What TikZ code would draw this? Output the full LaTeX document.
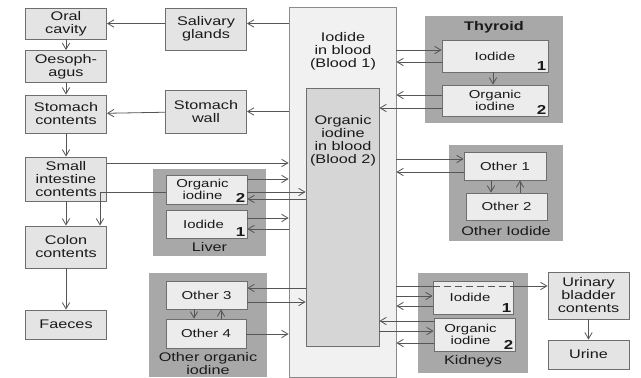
\documentclass[tikz,border=0pt]{standalone}
\usepackage{xcolor}
\usepackage{fontspec}
\setmainfont{Liberation Sans}[FakeStretch=1.3]
\usepackage{tikz}
\usetikzlibrary{arrows.meta,positioning}
\definecolor{ink}{HTML}{1A1A1A}
\definecolor{edge}{HTML}{6E6E6E}
\definecolor{wire}{HTML}{555555}
\definecolor{boxfill}{HTML}{E4E4E4}
\definecolor{cellfill}{HTML}{ECECEC}
\definecolor{organ}{HTML}{A8A8A8}
\definecolor{bloodA}{HTML}{F1F1F1}
\definecolor{bloodB}{HTML}{D6D6D6}

\begin{document}
\begin{tikzpicture}[
  x=1pt,y=-1pt,
  font=\fontsize{12.5}{13}\selectfont,
  box/.style={draw=edge,line width=0.9pt,fill=boxfill,text=ink,
              minimum width=81pt,inner sep=1pt,align=center},
  cell/.style={draw=edge,line width=0.8pt,fill=cellfill,text=ink,
               inner sep=1pt,align=center,font=\fontsize{11.5}{12.5}\selectfont},
  organbox/.style={fill=organ,inner sep=0pt},
  organlbl/.style={text=ink,inner sep=0pt},
  num/.style={anchor=south east,inner sep=2pt,text=ink,font=\fontsize{13}{13}\selectfont\bfseries},
  arr/.style={-{Straight Barb[length=2.2mm,width=2.6mm]},draw=wire,line width=0.8pt},
  wire/.style={draw=wire,line width=0.8pt},
]
\useasboundingbox (0,0) rectangle (641,378);

% blood pools
\node[draw=edge!80,line width=0.8pt,fill=bloodA,minimum width=107pt,minimum height=370pt] (blood1) at (342.5,192.5) {};
\node[draw=edge,line width=0.8pt,fill=bloodB,minimum width=73pt,minimum height=258pt] (blood2) at (342.5,217) {};
\node[organlbl,align=center] (b1txt) at (343,51) {Iodide\\in blood\\(Blood 1)};
\node[organlbl,align=center] (b2txt) at (343,141) {Organic\\iodine\\in blood\\(Blood 2)};

% gut
\node[box,minimum height=31pt] (oral) at (66,23.5) {Oral\\cavity};
\node[box,minimum height=32pt] (oeso) at (66,66.5) {Oesoph-\\agus};
\node[box,minimum height=38pt] (stom) at (66,114) {Stomach\\contents};
\node[box,minimum height=44pt] (small) at (66,179) {Small\\intestine\\contents};
\node[box,minimum height=42pt] (colon) at (66,247) {Colon\\contents};
\node[box,minimum height=29pt] (faeces) at (66,324.5) {Faeces};
\node[box,minimum height=42pt] (saliv) at (206,29) {Salivary\\glands};
\node[box,minimum height=43pt] (swall) at (206,111.5) {Stomach\\wall};

% organs
\node[organbox,minimum width=138pt,minimum height=107pt] (thyr) at (494,69.5) {};
\node[organlbl] (thyrlbl) at (494,27) {\bfseries Thyroid};
\node[cell,minimum width=106pt,minimum height=32pt,label={[num]south east:1}] (thI) at (495,56) {Iodide};
\node[cell,minimum width=106pt,minimum height=31pt,label={[num]south east:2}] (thO) at (495,100.5) {Organic\\iodine};

\node[organbox,minimum width=113pt,minimum height=87pt] (liver) at (209.5,212.5) {};
\node[organlbl] (liverlbl) at (209.5,247) {Liver};
\node[cell,minimum width=81pt,minimum height=29pt,label={[num]south east:2}] (liO) at (206.5,189.5) {Organic\hspace*{8pt}\\iodine\hspace*{8pt}};
\node[cell,minimum width=81pt,minimum height=28pt,label={[num]south east:1}] (liI) at (206.5,224) {Iodide\hspace*{6pt}};

\node[organbox,minimum width=114pt,minimum height=96pt] (othI) at (506,193) {};
\node[organlbl] (othIlbl) at (506,231) {Other Iodide};
\node[cell,minimum width=82pt,minimum height=28pt] (o1) at (505,166) {Other 1};
\node[cell,minimum width=81pt,minimum height=27pt] (o2) at (506.5,206.5) {Other 2};

\node[organbox,minimum width=118pt,minimum height=104pt] (othO) at (208,325) {};
\node[organlbl,align=center] (othOlbl) at (208,363.5) {Other organic\\iodine};
\node[cell,minimum width=81pt,minimum height=28pt] (o3) at (206.5,295) {Other 3};
\node[cell,minimum width=80pt,minimum height=29pt] (o4) at (206,333.5) {Other 4};

\node[organbox,minimum width=110pt,minimum height=100pt] (kid) at (473,323) {};
\node[organlbl] (kidlbl) at (473,361) {Kidneys};
\node[cell,minimum width=80pt,minimum height=33pt,label={[num]south east:1}] (kI) at (473,297.5) {Iodide\hspace*{6pt}};
\node[cell,minimum width=81pt,minimum height=33pt,label={[num]south east:2}] (kO) at (474.5,334.5) {Organic\hspace*{8pt}\\iodine\hspace*{8pt}};

% excretion
\node[box,minimum height=47pt] (urin) at (588.5,295.5) {Urinary\\bladder\\contents};
\node[box,minimum height=29pt] (urine) at (588.5,354.5) {Urine};

% gut flows
\draw[arr] (blood1.west |- oral) -- (saliv.east |- oral);
\draw[arr] (saliv.west |- oral) -- (oral);
\draw[arr] (blood1.west |- swall) -- (swall);
\draw[arr] (swall) -- (stom);
\draw[arr] (oral) -- (oeso);
\draw[arr] (oeso) -- (stom);
\draw[arr] (stom) -- (small);
\draw[arr] (small) -- (colon);
\draw[arr] (colon) -- (faeces);
\draw[arr] (small.east |- 0,163) -- (blood1.west |- 0,163);

% liver
\draw[arr] (liO.east |- 0,179) -- (blood1.west |- 0,179);
\draw[arr] (liO.east |- 0,192) -- (blood2.west |- 0,192);
\draw[arr] (blood2.west |- 0,199) -- (liO.east |- 0,199);
\draw[arr] (liI.east |- 0,218) -- (blood1.west |- 0,218);
\draw[arr] (blood1.west |- 0,229) -- (liI.east |- 0,229);
\draw[arr] (liO.west |- 0,192) -| (colon.north -| 100,0);

% thyroid
\draw[arr] (blood1.east |- 0,50) -- (thI.west |- 0,50);
\draw[arr] (thI.west |- 0,62) -- (blood1.east |- 0,62);
\draw[arr] (thI.south -| 493,0) -- (thO.north -| 493,0);
\draw[arr] (thO.west |- 0,95) -- (blood1.east |- 0,95);
\draw[arr] (thO.west |- 0,108) -- (blood2.east |- 0,108);

% other iodide
\draw[arr] (blood1.east |- 0,159) -- (o1.west |- 0,159);
\draw[arr] (o1.west |- 0,172) -- (blood1.east |- 0,172);
\draw[arr] (o1.south -| 491,0) -- (o2.north -| 491,0);
\draw[arr] (o2.north -| 520,0) -- (o1.south -| 520,0);

% other organic iodine
\draw[arr] (blood2.west |- 0,288) -- (o3.east |- 0,288);
\draw[arr] (o3.east |- 0,302) -- (blood2.west |- 0,302);
\draw[arr] (o3.south -| 194,0) -- (o4.north -| 194,0);
\draw[arr] (o4.north -| 221,0) -- (o3.south -| 221,0);
\draw[arr] (o4.east |- 0,334) -- (blood1.west |- 0,334);

% kidneys
\draw[wire] (blood1.east |- 0,286) -- (kI.west |- 0,286);
\draw[wire,dash pattern=on 7pt off 4pt] (kI.west |- 0,286) -- (kI.east |- 0,286);
\draw[arr] (kI.east |- 0,286) -- (urin.west |- 0,286);
\draw[arr] (blood1.east |- 0,296) -- (kI.west |- 0,296);
\draw[arr] (kI.west |- 0,306) -- (blood1.east |- 0,306);
\draw[arr] (kO.west |- 0,321) -- (blood2.east |- 0,321);
\draw[arr] (blood2.east |- 0,331) -- (kO.west |- 0,331);
\draw[arr] (kO.west |- 0,343) -- (blood1.east |- 0,343);
\draw[arr] (urin) -- (urine);
\end{tikzpicture}
\end{document}
